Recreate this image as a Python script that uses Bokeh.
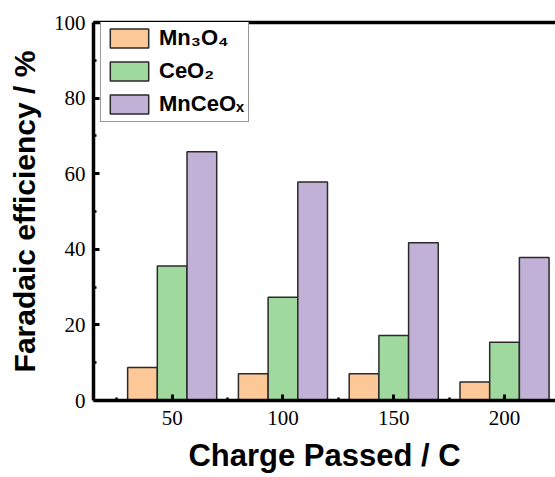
from bokeh.plotting import figure
from bokeh.models import (ColumnDataSource, FixedTicker, LinearAxis, Legend, LegendItem, Range1d)
from bokeh.embed import file_html
from bokeh.resources import INLINE

categories = ["50", "100", "150", "200"]
series_names = ["Mn\u2083O\u2084", "CeO\u2082", "MnCeO\u2093"]
mn3o4 = [8.7, 7.1, 7.1, 4.9]
ceo2 = [35.6, 27.3, 17.2, 15.4]
mnceox = [65.8, 57.8, 41.7, 37.8]
colors = ["#FCC898", "#9FD99E", "#C2B1D7"]
y_ticks = [0, 20, 40, 60, 80, 100]

p = figure(width=555, height=477, output_backend="svg", toolbar_location=None,
           x_range=Range1d(-0.71, 3.46), y_range=Range1d(0, 100),
           min_border_left=93, min_border_right=0, min_border_top=22, min_border_bottom=77)
p.outline_line_color = None
p.xgrid.visible = False
p.ygrid.visible = False
p.background_fill_color = "white"
p.border_fill_color = "white"

idx = list(range(len(categories)))
bw = 0.268
offsets = [-bw, 0.0, bw]
renderers = []
for vals, off, col in zip([mn3o4, ceo2, mnceox], offsets, colors):
    src = ColumnDataSource(dict(x=[i + off for i in idx], top=vals))
    r = p.vbar(x="x", top="top", width=bw, bottom=0, source=src,
               fill_color=col, line_color="#2a2a2a", line_width=1.5)
    renderers.append(r)

# x axis
xa = p.xaxis[0]
xa.ticker = FixedTicker(ticks=idx, minor_ticks=[i - 0.5 for i in idx] + [idx[-1] + 0.5])
xa.major_label_overrides = {i: c for i, c in zip(idx, categories)}
xa.axis_label = "Charge Passed / C"
xa.axis_label_text_font = "Liberation Sans"
xa.axis_label_text_font_style = "bold"
xa.axis_label_text_font_size = "31px"
xa.axis_label_standoff = 10
xa.major_label_text_font = "Liberation Serif"
xa.major_label_text_font_size = "21px"
xa.major_label_standoff = 10

# y axis
ya = p.yaxis[0]
ya.ticker = FixedTicker(ticks=y_ticks, minor_ticks=[10, 30, 50, 70, 90])
ya.axis_label = "Faradaic efficiency / %"
ya.axis_label_text_font = "Liberation Sans"
ya.axis_label_text_font_style = "bold"
ya.axis_label_text_font_size = "30px"
ya.axis_label_standoff = 10
ya.major_label_text_font = "Liberation Serif"
ya.major_label_text_font_size = "21px"
ya.major_label_standoff = 8

for ax in (xa, ya):
    ax.axis_line_width = 3.5
    ax.axis_line_color = "black"
    ax.major_tick_in = 6
    ax.major_tick_out = 0
    ax.minor_tick_in = 3
    ax.minor_tick_out = 0
    ax.major_tick_line_width = 3
    ax.minor_tick_line_width = 2.5
    ax.major_tick_line_color = "black"
    ax.minor_tick_line_color = "black"
    ax.major_label_text_color = "black"
    ax.axis_label_text_color = "black"

top = LinearAxis(ticker=FixedTicker(ticks=[]), major_label_text_font_size="0px",
                 major_tick_line_color=None, minor_tick_line_color=None,
                 axis_line_width=3.5, axis_line_color="black", major_label_standoff=0)
p.add_layout(top, "above")

legend = Legend(items=[LegendItem(label=n, renderers=[r]) for n, r in zip(series_names, renderers)],
                location=(7, 278), glyph_width=48, glyph_height=24, spacing=7,
                label_standoff=6, padding=4, margin=0, label_height=24,
                label_text_font="Liberation Sans", label_text_font_style="bold",
                label_text_font_size="22px", label_text_color="black",
                border_line_color="#333333", border_line_width=1,
                background_fill_alpha=1.0)
p.add_layout(legend, "center")

open("out.html", "w").write(file_html(p, INLINE))
